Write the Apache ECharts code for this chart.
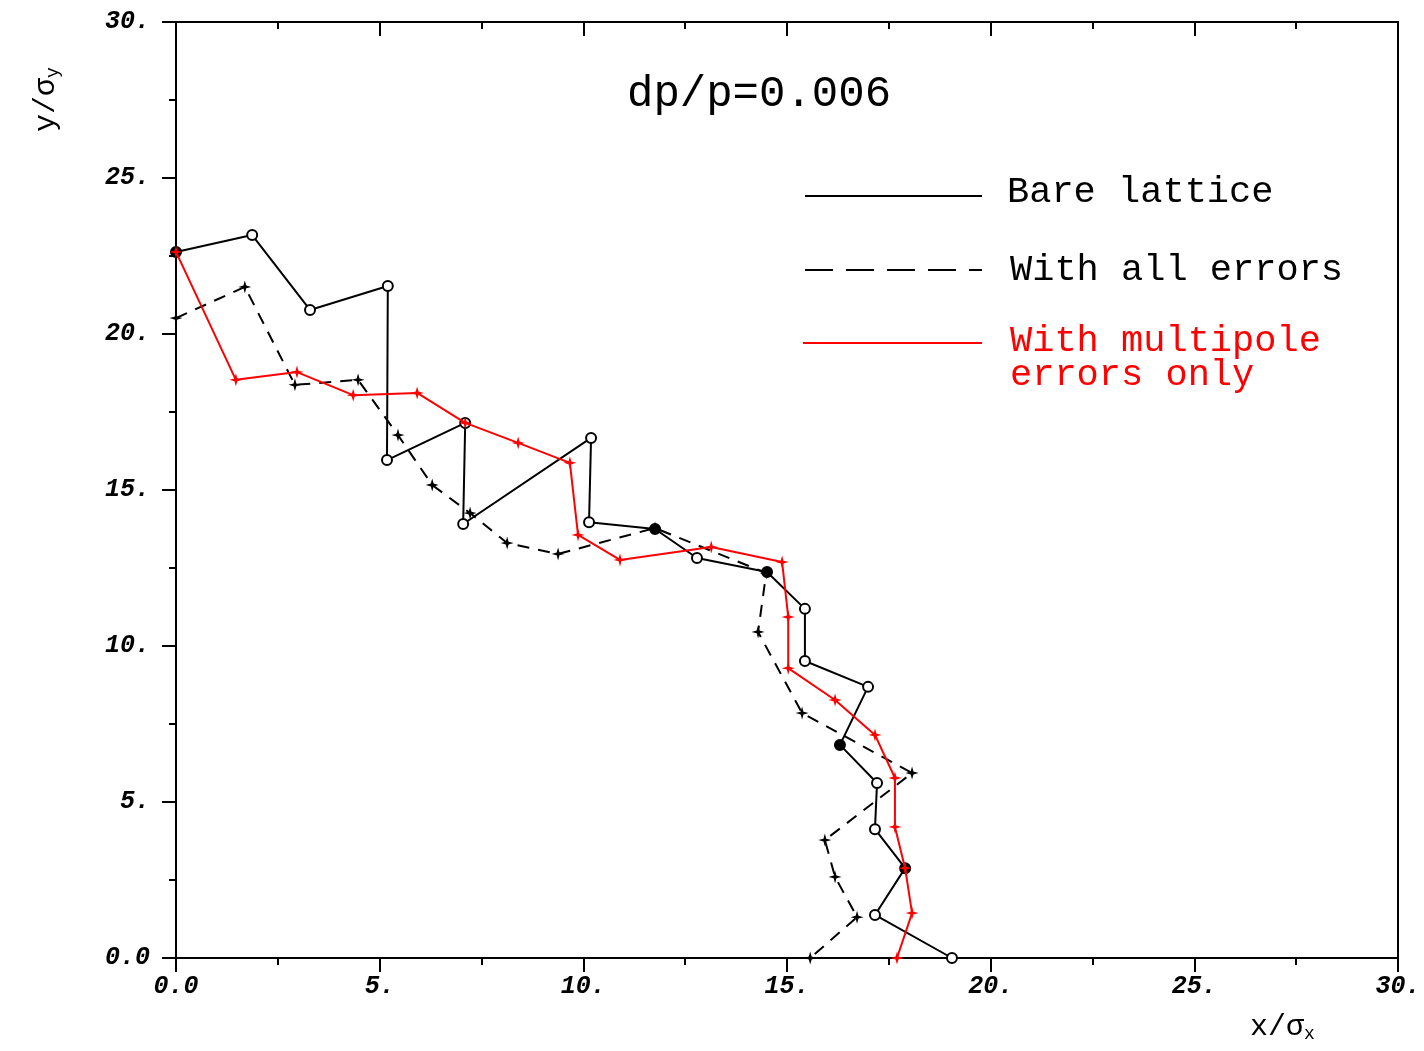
<!DOCTYPE html>
<html>
<head>
<meta charset="utf-8">
<script src="https://cdn.jsdelivr.net/npm/echarts@6/dist/echarts.min.js"></script>
<style>
  html, body { margin: 0; padding: 0; background: #fff; }
  #chart { width: 1424px; height: 1051px; }
</style>
</head>
<body>
<div id="chart"></div>
<script>
// axis ticks
const xTicks = [0, 5, 10, 15, 20, 25, 30];
const yTicks = [0, 5, 10, 15, 20, 25, 30];
const tickLabels = { 0: "0.0", 5: "5.", 10: "10.", 15: "15.", 20: "20.", 25: "25.", 30: "30." };

// Bare lattice (x/σx, y/σy)
const bareX = [0, 1.87, 3.29, 5.20, 5.18, 7.10, 7.05, 10.19, 10.14, 11.76, 12.79, 14.51, 15.44, 15.44, 16.99, 16.30, 17.21, 17.16, 17.90, 17.16, 19.05];
const bareY = [22.63, 23.17, 20.77, 21.54, 15.96, 17.15, 13.91, 16.67, 13.97, 13.75, 12.82, 12.37, 11.19, 9.52, 8.69, 6.83, 5.61, 4.13, 2.88, 1.38, 0];

// With all errors
const allX = [0, 1.69, 2.92, 4.47, 5.45, 6.29, 7.22, 8.13, 9.38, 11.76, 14.49, 14.29, 15.37, 18.07, 15.93, 16.18, 16.72, 15.57];
const allY = [20.51, 21.51, 18.37, 18.53, 16.76, 15.16, 14.26, 13.30, 12.95, 13.78, 12.34, 10.45, 7.85, 5.93, 3.78, 2.60, 1.31, 0];

// With multipole errors only
const multX = [0, 1.47, 2.97, 4.35, 5.92, 7.10, 8.40, 9.67, 9.87, 10.90, 13.14, 14.88, 15.03, 15.03, 16.18, 17.16, 17.65, 17.65, 17.90, 18.07, 17.70];
const multY = [22.63, 18.53, 18.78, 18.04, 18.11, 17.15, 16.51, 15.87, 13.56, 12.76, 13.17, 12.69, 10.93, 9.29, 8.27, 7.15, 5.77, 4.20, 2.88, 1.44, 0];

// bare lattice points drawn as filled dots
const bareFilled = [0, 9, 11, 15, 18];

const zip = (xs, ys) => xs.map((x, i) => [x, ys[i]]);

const STAR = "path://M0,-6 L1.3,-1.3 L6,0 L1.3,1.3 L0,6 L-1.3,1.3 L-6,0 L-1.3,-1.3 Z";
const MONO = "'Liberation Mono', 'DejaVu Sans Mono', monospace";

const chart = echarts.init(document.getElementById("chart"));

const tickFont = {
  fontFamily: MONO, fontSize: 25, fontStyle: "italic", fontWeight: "bold", color: "#000",
};
const blackLine = { color: "#000", width: 2 };

const option = {
  animation: false,
  backgroundColor: "#fff",
  grid: { left: 176, right: 26, top: 22, bottom: 93 },
  xAxis: [
    {
      type: "value", min: 0, max: 30, interval: 5, position: "bottom",
      axisLine: { onZero: false, lineStyle: blackLine },
      axisTick: { inside: false, length: 14, lineStyle: blackLine },
      minorTick: { show: true, splitNumber: 2, length: 7, lineStyle: blackLine },
      splitLine: { show: false },
      axisLabel: Object.assign({ margin: 16, formatter: v => tickLabels[v] }, tickFont),
    },
    {
      type: "value", min: 0, max: 30, interval: 5, position: "top",
      axisLine: { onZero: false, lineStyle: blackLine },
      axisTick: { inside: true, length: 14, lineStyle: blackLine },
      minorTick: { show: true, splitNumber: 2, length: 7, lineStyle: blackLine },
      splitLine: { show: false },
      axisLabel: { show: false },
    },
  ],
  yAxis: [
    {
      type: "value", min: 0, max: 30, interval: 5, position: "left",
      axisLine: { onZero: false, lineStyle: blackLine },
      axisTick: { inside: false, length: 14, lineStyle: blackLine },
      minorTick: { show: true, splitNumber: 2, length: 7, lineStyle: blackLine },
      splitLine: { show: false },
      axisLabel: Object.assign({ margin: 26, formatter: v => tickLabels[v] }, tickFont),
    },
    {
      type: "value", min: 0, max: 30, interval: 5, position: "right",
      axisLine: { onZero: false, lineStyle: blackLine },
      axisTick: { show: false },
      splitLine: { show: false },
      axisLabel: { show: false },
    },
  ],
  series: [
    {
      name: "Bare lattice",
      type: "line",
      data: zip(bareX, bareY),
      symbol: (v, p) => (bareFilled.includes(p.dataIndex) ? "circle" : "emptyCircle"),
      symbolSize: 10,
      lineStyle: { color: "#000", width: 2 },
      itemStyle: { color: "#000", borderColor: "#000", borderWidth: 2 },
      z: 3,
    },
    {
      name: "With all errors",
      type: "line",
      data: zip(allX, allY),
      symbol: STAR,
      symbolSize: 13,
      lineStyle: { color: "#000", width: 2, type: [12, 9] },
      itemStyle: { color: "#000" },
      z: 2,
    },
    {
      name: "With multipole errors only",
      type: "line",
      data: zip(multX, multY),
      symbol: STAR,
      symbolSize: 13,
      lineStyle: { color: "#ff0000", width: 2 },
      itemStyle: { color: "#ff0000" },
      z: 4,
    },
  ],
  graphic: [
    // title
    { type: "text", left: 627, top: 72, style: { text: "dp/p=0.006", font: "44px " + MONO, fill: "#000" } },
    // legend
    { type: "line", shape: { x1: 805, y1: 196, x2: 982, y2: 196 }, style: { stroke: "#000", lineWidth: 2 } },
    { type: "text", left: 1007, top: 174, style: { text: "Bare lattice", font: "37px " + MONO, fill: "#000" } },
    { type: "line", shape: { x1: 805, y1: 270, x2: 982, y2: 270 }, style: { stroke: "#000", lineWidth: 2, lineDash: [28, 13] } },
    { type: "text", left: 1010, top: 252, style: { text: "With all errors", font: "37px " + MONO, fill: "#000" } },
    { type: "line", shape: { x1: 803, y1: 343, x2: 982, y2: 343 }, style: { stroke: "#ff0000", lineWidth: 2 } },
    { type: "text", left: 1010, top: 323, style: { text: "With multipole\nerrors only", font: "37px " + MONO, fill: "#ff0000", lineHeight: 34 } },
    // axis names
    {
      type: "text", left: 1250, top: 1012,
      style: {
        text: "{n|x/σ}{s|x}",
        rich: {
          n: { fontFamily: MONO, fontSize: 30, fill: "#000" },
          s: { fontFamily: MONO, fontSize: 18, fill: "#000", padding: [14, 0, 0, 0] },
        },
      },
    },
    {
      type: "text", x: 30, y: 132, rotation: Math.PI / 2,
      style: {
        text: "{n|y/σ}{s|y}",
        rich: {
          n: { fontFamily: MONO, fontSize: 30, fill: "#000" },
          s: { fontFamily: MONO, fontSize: 18, fill: "#000", padding: [14, 0, 0, 0] },
        },
      },
    },
  ],
};

chart.setOption(option);
</script>
</body>
</html>
